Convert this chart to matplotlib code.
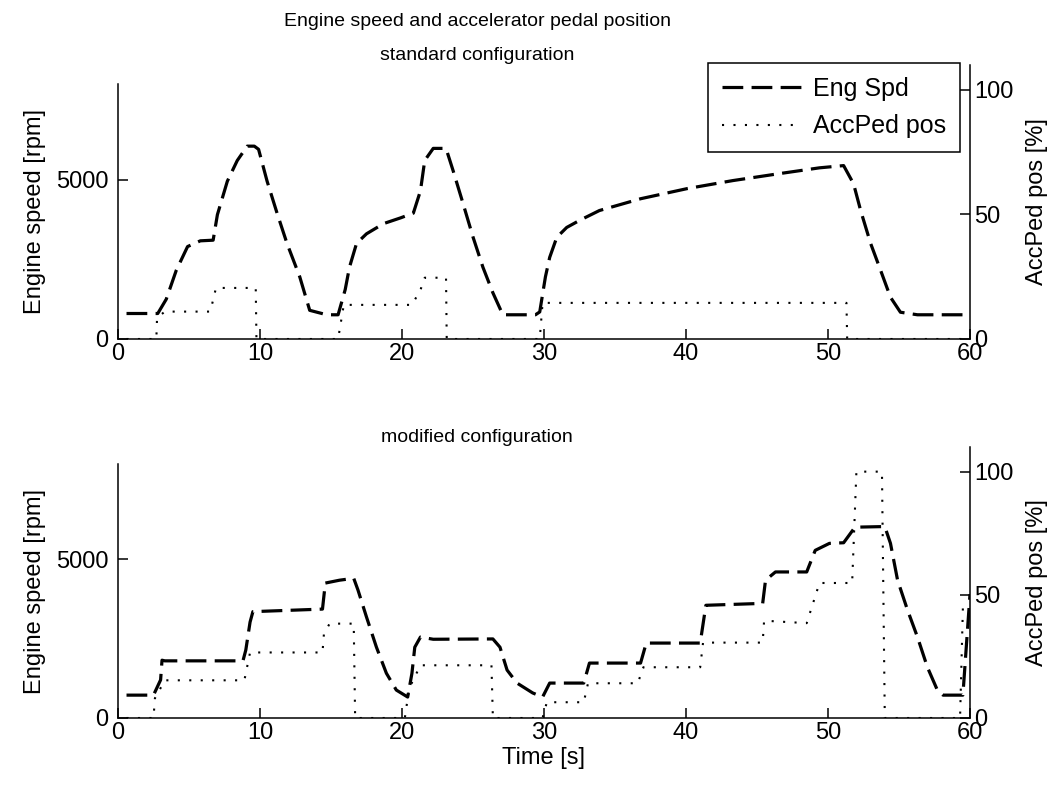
import matplotlib
matplotlib.use("Agg")
import matplotlib.pyplot as plt

plt.rcParams["font.family"] = ["Liberation Sans", "DejaVu Sans"]

# --- standard configuration ---
std_eng_t = [0.6, 2.8, 3.4, 4.1, 4.9, 5.8, 6.7, 7.0, 7.7, 8.4, 9.1, 9.6, 9.9, 10.5,
             11.2, 11.9, 12.8, 13.5, 14.7, 15.5, 16.0, 16.3, 16.8, 17.5, 18.7, 19.9,
             20.8, 21.3, 21.6, 22.2, 23.1, 23.6, 24.3, 25.0, 25.7, 26.4, 27.1, 29.4,
             29.7, 30.1, 30.4, 30.9, 31.6, 32.5, 33.9, 36.8, 40.1, 43.3, 46.6, 49.4,
             51.1, 51.8, 52.3, 53.0, 53.7, 54.4, 55.1, 56.3, 60.0]
std_eng_rpm = [800, 800, 1250, 2150, 2900, 3080, 3100, 3900, 4950, 5600, 6050, 6050,
               5950, 4950, 3950, 3000, 1950, 900, 760, 760, 1550, 2250, 3000, 3300,
               3620, 3800, 3950, 4650, 5600, 5980, 5980, 5280, 4250, 3200, 2250, 1450,
               760, 760, 850, 1950, 2560, 3190, 3500, 3720, 4030, 4400, 4720, 4970,
               5190, 5370, 5440, 4870, 4030, 3000, 2160, 1310, 840, 760, 760]

std_acc_t = [0.6, 2.7, 2.75, 3.3, 6.5, 6.9, 9.7, 9.75, 15.5, 15.9, 20.7, 21.3, 21.6,
             23.1, 23.15, 29.7, 29.9, 51.3, 51.35, 60.0]
std_acc_pct = [0, 0, 8.5, 11, 11, 20.5, 20.5, 0, 0, 13.7, 13.7, 19.7, 24.6,
               24.6, 0, 0, 14.5, 14.5, 0, 0]

# --- modified configuration ---
mod_eng_t = [0.6, 2.5, 3.0, 3.1, 3.3, 8.8, 9.0, 9.3, 9.5, 14.4, 14.6, 15.6, 16.6,
             16.9, 17.5, 18.2, 18.9, 19.6, 20.4, 20.7, 20.9, 21.3, 22.2, 26.4, 26.9,
             27.4, 28.1, 29.2, 29.9, 30.4, 32.8, 33.2, 36.8, 37.2, 41.0, 41.4, 45.4,
             45.6, 46.3, 48.5, 49.1, 50.1, 51.1, 51.9, 54.0, 54.4, 54.9, 55.6, 56.3,
             57.0, 57.7, 58.1, 59.5, 60.0]
mod_eng_rpm = [720, 720, 1200, 1820, 1800, 1800, 2140, 3020, 3350, 3430, 4250, 4340,
               4400, 4030, 3180, 2230, 1410, 880, 660, 1410, 2230, 2550, 2480, 2490,
               2230, 1510, 1100, 790, 660, 1100, 1100, 1730, 1730, 2360, 2360, 3550,
               3610, 4340, 4600, 4600, 5280, 5500, 5520, 6010, 6030, 5500, 4340, 3400,
               2550, 1600, 880, 720, 720, 3900]

mod_acc_t = [0.6, 2.5, 2.6, 3.3, 8.9, 9.3, 14.4, 14.5, 14.9, 16.6, 16.7, 20.2, 20.5,
             21.3, 26.3, 26.4, 29.9, 30.2, 32.8, 33.1, 36.6, 37.0, 41.0, 41.2, 45.4,
             45.5, 48.5, 49.4, 51.7, 52.0, 53.8, 54.0, 59.3, 59.5, 60.0]
mod_acc_pct = [0, 0, 8, 15.3, 15.3, 26.6, 26.6, 34, 38.3, 38.3, 0, 0, 12, 21.4, 21.4,
               0, 0, 6.4, 6.4, 14.1, 14.1, 20.6, 20.6, 30.6, 30.6, 39.5, 38.5, 54.8,
               54.8, 100, 100, 0, 0, 45, 45]

W, H = 1059, 794
fig = plt.figure(figsize=(W / 100, H / 100), dpi=100)

DASH = dict(color="black", linewidth=2.3, linestyle=(0, (6.5, 2.6)))
DOT = dict(color="black", linewidth=1.5, linestyle=(0, (1, 4.5)))
FS_TICK = 17
FS_LABEL = 17
FS_TITLE = 14


def make_axes(top_px, right_top_px, bottom_px):
    left = 118 / W
    width = (970 - 118) / W
    ax = fig.add_axes([left, 1 - bottom_px / H, width, (bottom_px - top_px) / H])
    ax2 = fig.add_axes([left, 1 - bottom_px / H, width, (bottom_px - right_top_px) / H])
    ax.set_xlim(0, 60)
    ax.set_ylim(0, 8000)
    ax.set_yticks([0, 5000])
    ax.set_xticks(range(0, 61, 10))
    ax2.set_xlim(0, 60)
    ax2.set_ylim(0, 110)
    ax2.set_yticks([0, 50, 100])
    ax2.patch.set_alpha(0)
    ax2.xaxis.set_visible(False)
    for s in ["top", "right"]:
        ax.spines[s].set_visible(False)
    for s in ["top", "left", "bottom"]:
        ax2.spines[s].set_visible(False)
    for a in (ax, ax2):
        for s in a.spines.values():
            s.set_linewidth(1.1)
        a.tick_params(direction="in", length=7, width=1.1, labelsize=FS_TICK)
    ax.tick_params(axis="x", pad=3)
    ax.tick_params(axis="y", pad=7)
    ax2.yaxis.tick_right()
    ax2.tick_params(axis="y", pad=3)
    ax2.yaxis.set_label_position("right")
    ax.set_ylabel("Engine speed [rpm]", fontsize=FS_LABEL, labelpad=7)
    ax2.set_ylabel("AccPed pos [%]", fontsize=FS_LABEL, labelpad=9)
    return ax, ax2


# top panel
ax1, ax1r = make_axes(84, 65, 339)
l1, = ax1.plot(std_eng_t, std_eng_rpm, label="Eng Spd", **DASH)
l2, = ax1r.plot(std_acc_t, std_acc_pct, label="AccPed pos", **DOT)
leg = ax1r.legend([l1, l2], ["Eng Spd", "AccPed pos"], loc="upper right",
                  bbox_to_anchor=(960 / W, 1 - 63 / H), bbox_transform=fig.transFigure,
                  borderaxespad=0, fancybox=False, framealpha=1, edgecolor="black",
                  fontsize=18, handlelength=3.16, handletextpad=0.5,
                  borderpad=0.55, labelspacing=0.55)
leg.get_frame().set_linewidth(1.1)
fig.text(477 / W, 1 - 22 / H, "Engine speed and accelerator pedal position",
         ha="center", va="center", fontsize=FS_TITLE)
fig.text(477 / W, 1 - 55 / H, "standard configuration",
         ha="center", va="center", fontsize=FS_TITLE)

# bottom panel
ax2, ax2r = make_axes(464, 447, 718)
ax2.plot(mod_eng_t, mod_eng_rpm, **DASH)
ax2r.plot(mod_acc_t, mod_acc_pct, **DOT)
ax2.yaxis.get_major_ticks()[1].tick1line.set_color("blue")
ax2.set_xlabel("Time [s]", fontsize=FS_LABEL, labelpad=2)
fig.text(477 / W, 1 - 437 / H, "modified configuration",
         ha="center", va="center", fontsize=FS_TITLE)

fig.savefig("out.png", dpi=100)
